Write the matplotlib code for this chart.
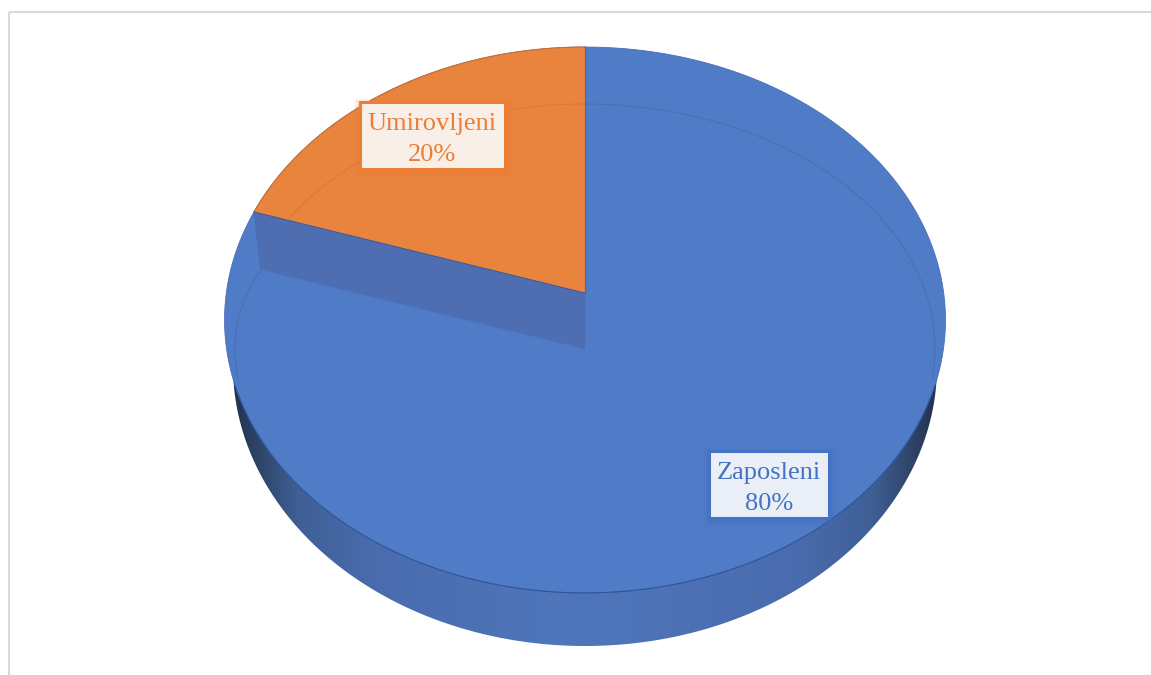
import matplotlib
matplotlib.use("Agg")
import matplotlib.pyplot as plt
from matplotlib.colors import LinearSegmentedColormap
from matplotlib.patches import Polygon, Rectangle
import numpy as np

# datos del grafico
categorias = ["Zaposleni", "Umirovljeni"]
valores = [80, 20]

color_azul = "#507bc6"
color_naranja = "#e9843f"
color_pared = "#4f6eb2"
texto_colores = ["#4472c4", "#ed7d31"]
caja_fondos = ["#eaeff7", "#f9efe9"]
# caja de cada etiqueta: x0, y0, x1, y1 en pixeles
cajas = [(709, 451, 829, 518), (360, 102, 505, 169)]

# geometria de la torta en pixeles
cx = 585
apice_y = 293      # centro de la cara naranja
A, B, k = 358.7, 270.3, 0.0989   # perspectiva del plano superior
in_a, in_b, in_y = 350, 245, 349   # elipse interior (bisel)
in_b_izq = 210     # el bisel se cierra hacia la esquina izquierda
low_a, low_b, low_y = 352, 280, 366  # borde inferior del lateral


def proyectar(frac):
    # fraccion acumulada (sentido horario desde arriba) a pixeles
    t = 2 * np.pi * np.asarray(frac)
    u, v = np.sin(t), np.cos(t)
    w = 1 + k * v
    return cx + A * u / w, apice_y - B * v / w


def elipse(a, b, y0, t0=0, t1=360, n=400):
    t = np.radians(np.linspace(t0, t1, n))
    return cx + a * np.sin(t), y0 - b * np.cos(t)


fig = plt.figure(figsize=(11.51, 6.75), dpi=100)
ax = fig.add_axes([0, 0, 1, 1])

# marco gris
ax.plot([9, 9], [675, 12], color="#d9d9d9", lw=1.5, solid_capstyle="butt")
ax.plot([9, 1151], [12, 12], color="#d9d9d9", lw=1.5, solid_capstyle="butt")

# lateral con degradado horizontal
cmap = LinearSegmentedColormap.from_list("lateral", [
    (0.0, "#22324f"), (0.03, "#2e4265"), (0.09, "#3f5f95"), (0.2, "#4a6cae"),
    (0.5, "#4f76bc"), (0.8, "#4a6cae"), (0.91, "#3f5f95"), (0.97, "#2e4265"),
    (1.0, "#22324f")])
lx, ly = elipse(low_a, low_b, low_y)
grad = ax.imshow(np.linspace(0, 1, 512).reshape(1, -1), cmap=cmap, aspect="auto",
                 extent=(cx - low_a, cx + low_a, 675, 0), zorder=1)
lateral = Polygon(np.column_stack([lx, ly]), closed=True, transform=ax.transData,
                  fc="none", ec="none")
ax.add_patch(lateral)
grad.set_clip_path(lateral)

# cara superior azul
acum = np.cumsum(valores) / np.sum(valores)
ox, oy = proyectar(np.linspace(0, 1, 600))
ax.fill(ox, oy, color=color_azul, lw=0, zorder=2)
ax.plot(ox, oy, color="#4a70b8", lw=0.6, zorder=2)
# borde frontal, mas oscuro
frente = (oy > 385)
ax.plot(ox[frente], oy[frente], color="#2f5597", lw=0.8, zorder=3)

# cara naranja
fr = np.linspace(acum[0], 1, 120)
nx, ny = proyectar(fr)
nx = np.append(nx, cx)
ny = np.append(ny, apice_y)
naranja = ax.fill(nx, ny, color=color_naranja, lw=0, zorder=3)[0]
ax.plot(nx[:-1], ny[:-1], color="#c96f30", lw=0.8, zorder=4)

# pared entre naranja y azul
rx, ry = proyectar(acum[0])
dx, dy = rx - cx, ry - apice_y
d = 1 / np.sqrt((dx / in_a) ** 2 + (dy / in_b_izq) ** 2)
ix, iy = cx + dx * d, in_y + dy * d
ax.fill([rx, cx, cx, ix], [ry, apice_y, in_y, iy], color=color_pared, lw=0, zorder=3)
ax.plot([rx, cx], [ry, apice_y], color="#3d5a96", lw=0.7, zorder=4)
ax.plot([cx, cx], [oy.min(), apice_y], color="#3f68b0", lw=0.8, zorder=4)
ax.plot([ix, cx], [iy, in_y], color="#4a74c4", lw=0.7, zorder=4)
ax.plot([rx, ix], [ry, iy], color="#4a6cb0", lw=0.6, zorder=4)

# lineas del bisel
bx, by = elipse(in_a, in_b, in_y, 0, 97)
ax.plot(bx, by, color="#456fb9", lw=0.7, zorder=4)
t_esq = np.degrees(np.arctan2((cx - ix) / in_a, (in_y - iy) / in_b_izq))
bx, by = elipse(in_a, in_b_izq, in_y, -90, -t_esq)
ax.plot(bx, by, color="#456fb9", lw=0.7, zorder=4)
bx, by = elipse(in_a, in_b, in_y, -97, -90)
ax.plot(bx, by, color="#456fb9", lw=0.7, zorder=4)
bx, by = elipse(in_a, in_b, in_y, -90, 0)
arco, = ax.plot(bx, by, color="#de7a36", lw=0.8, zorder=4)
arco.set_clip_path(naranja)

# etiquetas
for cat, val, caja, col, fondo in zip(categorias, valores, cajas, texto_colores, caja_fondos):
    x0, y0, x1, y1 = caja
    # sombra suave del mismo color
    for i in range(7, 0, -1):
        ax.add_patch(Rectangle((x0 - i + 1, y0 - i + 3), x1 - x0 + 2 * i, y1 - y0 + 2 * i,
                               fc=col, ec="none", alpha=0.05, zorder=5))
    ax.add_patch(Rectangle((x0, y0), x1 - x0, y1 - y0, fc=fondo, ec=col, lw=2.2, zorder=6))
    ax.text((x0 + x1) / 2, (y0 + y1) / 2 + 4, "%s\n%d%%" % (cat, val), color=col,
            family="Liberation Serif", fontsize=19, ha="center", va="center",
            linespacing=1.54, zorder=7)

ax.set_xlim(0, 1151)
ax.set_ylim(675, 0)
ax.axis("off")

fig.savefig("out.png", dpi=100)
